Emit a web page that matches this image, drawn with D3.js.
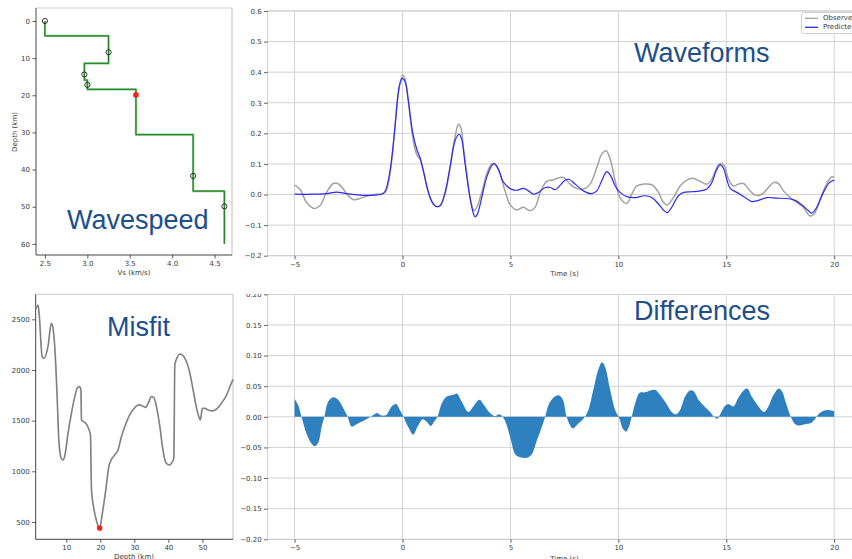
<!DOCTYPE html>
<html><head><meta charset="utf-8">
<script src="https://cdn.jsdelivr.net/npm/d3@7"></script>
<style>
body{margin:0;background:#fff}
svg{display:block}
text{font-family:"DejaVu Sans",sans-serif}
.big{font-family:"Liberation Sans",Arial,sans-serif;fill:#1d4f8b}
</style>
</head><body>
<svg id="fig" width="852" height="559"></svg>
<script>
// ---- Shear-wave velocity model: layer tops/bottoms (km) and Vs (km/s)
const layerTop    = [0, 4.0, 11.4, 15.9, 18.4, 30.6, 45.8];
const layerBottom = [4.0, 11.4, 15.9, 18.4, 30.6, 45.8, 60];
const layerVs     = [2.5, 3.25, 2.965, 3.0, 3.573, 4.247, 4.615];
// sample points along the model (open markers) and the perturbed one (red)
const sampleDepth = [0, 8.4, 14.4, 17.2, 41.7, 49.9];
const sampleVs    = [2.5, 3.25, 2.965, 3.0, 4.247, 4.615];
const chosenPoint = [3.573, 19.9];
const vsTicks = [2.5, 3.0, 3.5, 4.0, 4.5];
const depthTicks = [0, 10, 20, 30, 40, 50, 60];

// ---- Misfit as a function of perturbation depth [depth km, misfit]
const misfitCurve = [
  [1.0,2600],[1.7,2640],[2.0,2560],[2.9,2132],[3.4,2115],[4.6,2230],[5.6,2460],[5.9,2444],
  [6.6,2230],[7.3,1737],[7.8,1310],[8.5,1128],[9.0,1112],[9.5,1145],[10.5,1375],[11.5,1572],
  [12.5,1737],[13.2,1819],[13.9,1836],[14.3,1803],[14.45,1507],[15.1,1490],[15.9,1467],
  [16.7,1408],[17.1,1359],[17.4,816],[18.0,652],[18.8,520],[19.8,440],[20.6,586],[21.6,816],
  [22.5,1046],[23.2,1112],[24.2,1161],[25.2,1211],[26.2,1342],[27.2,1441],[28.6,1556],
  [29.6,1605],[30.6,1645],[31.6,1655],[32.4,1645],[33.3,1632],[34.0,1665],[35.0,1737],
  [35.7,1730],[36.5,1638],[37.5,1441],[38.4,1211],[39.4,1079],[40.4,1063],[41.2,1096],
  [41.6,1128],[41.9,2049],[42.5,2115],[43.3,2158],[44.1,2148],[45.1,2099],[46.1,2000],
  [47.1,1836],[48.0,1671],[48.8,1556],[49.4,1507],[50.0,1622],[50.7,1622],[51.7,1605],
  [52.9,1596],[54.1,1612],[55.6,1671],[57.1,1753],[58.5,1868],[59.0,1908]
];
const misfitBest = [19.8, 440];
const misfitXTicks = [10, 20, 30, 40, 50];
const misfitYTicks = [500, 1000, 1500, 2000, 2500];

// ---- Waveforms [time s, amplitude]
const observed = [
  [-5,0.031],[-4.75,0.017],[-4.44,-0.026],[-4.09,-0.046],[-3.83,-0.037],[-3.52,0.007],
  [-3.21,0.036],[-3.02,0.037],[-2.82,0.025],[-2.51,-0.004],[-2.28,-0.017],[-1.97,-0.013],
  [-1.58,-0.004],[-1.2,0.001],[-0.89,0.003],[-0.73,0.017],[-0.58,0.067],[-0.42,0.165],
  [-0.27,0.284],[-0.12,0.36],[0.01,0.39],[0.12,0.377],[0.27,0.306],[0.43,0.208],[0.58,0.148],
  [0.69,0.126],[0.81,0.116],[0.97,0.077],[1.12,0.028],[1.35,-0.021],[1.58,-0.039],
  [1.74,-0.037],[1.97,0.001],[2.2,0.088],[2.43,0.186],[2.59,0.23],[2.7,0.219],[2.82,0.154],
  [2.98,0.067],[3.16,-0.021],[3.32,-0.053],[3.44,-0.042],[3.67,0.007],[3.9,0.067],[4.13,0.1],
  [4.29,0.1],[4.52,0.067],[4.75,0.012],[4.98,-0.032],[5.29,-0.05],[5.6,-0.042],[5.91,-0.053],
  [6.14,-0.042],[6.38,0.007],[6.68,0.043],[6.99,0.048],[7.3,0.056],[7.53,0.053],[7.76,0.034],
  [8.07,0.02],[8.38,0.018],[8.69,0.034],[9.0,0.088],[9.23,0.132],[9.43,0.143],[9.62,0.116],
  [9.85,0.045],[10.08,-0.01],[10.39,-0.029],[10.62,0.001],[10.85,0.028],[11.16,0.034],
  [11.55,0.032],[11.86,0.007],[12.09,-0.026],[12.27,-0.034],[12.55,-0.01],[12.86,0.028],
  [13.17,0.047],[13.45,0.053],[13.79,0.043],[14.1,0.034],[14.33,0.05],[14.56,0.088],
  [14.71,0.101],[14.9,0.094],[15.1,0.05],[15.33,0.028],[15.56,0.034],[15.8,0.036],
  [16.03,0.018],[16.34,-0.002],[16.65,0.001],[16.95,0.023],[17.19,0.039],[17.42,0.036],
  [17.65,0.012],[17.96,-0.01],[18.27,-0.026],[18.58,-0.042],[18.88,-0.07],[19.07,-0.064],
  [19.35,-0.015],[19.66,0.036],[19.89,0.058],[20.0,0.056]
];
const predicted = [
  [-5,0.001],[-4.13,0.001],[-3.52,0.003],[-3.05,0.008],[-2.59,0.003],[-1.97,-0.002],
  [-1.35,-0.002],[-0.97,0.001],[-0.81,0.01],[-0.58,0.077],[-0.35,0.219],[-0.15,0.355],
  [-0.01,0.38],[0.12,0.369],[0.27,0.306],[0.47,0.203],[0.66,0.148],[0.81,0.121],[1.0,0.067],
  [1.2,0.007],[1.43,-0.032],[1.62,-0.04],[1.77,-0.034],[1.97,0.007],[2.2,0.088],[2.43,0.175],
  [2.62,0.197],[2.74,0.181],[2.9,0.099],[3.1,0.001],[3.25,-0.053],[3.36,-0.073],[3.47,-0.064],
  [3.67,-0.01],[3.9,0.056],[4.13,0.094],[4.24,0.101],[4.44,0.083],[4.64,0.045],[4.83,0.028],
  [5.06,0.017],[5.29,0.014],[5.6,0.02],[5.83,0.012],[6.07,0.001],[6.3,0.007],[6.61,0.023],
  [6.84,0.023],[7.07,0.016],[7.3,0.03],[7.5,0.045],[7.7,0.05],[8.0,0.034],[8.38,0.012],
  [8.77,0.003],[9.0,0.012],[9.23,0.045],[9.46,0.075],[9.65,0.061],[9.85,0.028],[10.08,0.007],
  [10.39,-0.007],[10.78,-0.01],[11.24,-0.004],[11.55,-0.01],[11.86,-0.031],[12.12,-0.053],
  [12.27,-0.059],[12.47,-0.042],[12.78,-0.004],[13.02,0.007],[13.4,0.009],[13.79,0.012],
  [14.1,0.018],[14.33,0.039],[14.53,0.077],[14.71,0.097],[14.87,0.086],[15.02,0.05],
  [15.18,0.02],[15.49,0.007],[15.87,-0.01],[16.18,-0.023],[16.49,-0.019],[16.88,-0.01],
  [17.34,-0.012],[17.8,-0.013],[18.19,-0.019],[18.5,-0.034],[18.81,-0.053],[18.96,-0.061],
  [19.19,-0.042],[19.5,0.007],[19.78,0.039],[20.0,0.047]
];
// ---- Residual (observed - predicted) [time s, amplitude]
const residual = [
  [-5,0.029],[-4.83,0.019],[-4.68,0],[-4.44,-0.028],[-4.21,-0.044],[-4.06,-0.048],[-3.9,-0.042],
  [-3.75,-0.017],[-3.62,0],[-3.44,0.025],[-3.21,0.032],[-2.98,0.028],[-2.74,0.014],[-2.54,0],
  [-2.36,-0.016],[-2.13,-0.012],[-1.82,-0.007],[-1.54,-0.001],[-1.35,0.003],[-1.17,0.006],
  [-0.97,0.002],[-0.76,0.003],[-0.5,0.017],[-0.3,0.021],[-0.12,0.011],[0.04,0],[0.27,-0.017],
  [0.5,-0.029],[0.7,-0.016],[0.94,-0.004],[1.12,-0.008],[1.31,-0.015],[1.46,-0.008],[1.62,0],
  [1.82,0.022],[2.05,0.033],[2.36,0.036],[2.51,0.038],[2.74,0.025],[3.05,0.008],[3.28,0.017],
  [3.56,0.028],[3.78,0.019],[4.03,0.007],[4.29,0.001],[4.47,0.004],[4.64,0],[4.83,-0.014],
  [5.03,-0.039],[5.22,-0.061],[5.45,-0.066],[5.76,-0.067],[5.99,-0.061],[6.22,-0.039],
  [6.45,-0.017],[6.61,0],[6.76,0.019],[6.99,0.031],[7.23,0.035],[7.43,0.028],[7.58,0.003],
  [7.74,-0.012],[7.89,-0.019],[8.15,-0.011],[8.41,-0.002],[8.61,0.011],[8.84,0.044],
  [9.08,0.078],[9.25,0.089],[9.39,0.081],[9.62,0.044],[9.85,0.011],[10.05,-0.003],
  [10.2,-0.019],[10.36,-0.024],[10.51,-0.014],[10.62,0],[10.78,0.022],[10.98,0.039],
  [11.24,0.04],[11.47,0.043],[11.7,0.044],[11.93,0.036],[12.21,0.022],[12.47,0.008],
  [12.68,0.004],[12.86,0.011],[13.09,0.033],[13.32,0.043],[13.48,0.042],[13.71,0.028],
  [13.94,0.019],[14.25,0.008],[14.44,0],[14.59,-0.003],[14.74,0.006],[14.95,0.018],
  [15.1,0.021],[15.33,0.017],[15.56,0.031],[15.8,0.043],[15.98,0.046],[16.18,0.033],
  [16.49,0.017],[16.75,0.008],[16.95,0.017],[17.19,0.036],[17.42,0.046],[17.57,0.042],
  [17.77,0.022],[17.99,0],[18.19,-0.012],[18.39,-0.014],[18.65,-0.012],[18.92,-0.01],
  [19.12,-0.003],[19.27,0.004],[19.5,0.01],[19.73,0.011],[20.0,0.009]
];
const timeTicks = [-5, 0, 5, 10, 15, 20];
const waveTicks = [-0.2, -0.1, 0.0, 0.1, 0.2, 0.3, 0.4, 0.5, 0.6];
const resTicks = [-0.2, -0.15, -0.1, -0.05, 0.0, 0.05, 0.1, 0.15, 0.2];
const legendLabels = ["Observed", "Predicted"];

const svg = d3.select("#fig");
const minus = s => s.replace("-", "\u2212");
const TICK = "#333", TXT = "#3a3a3a", GRID = "#d2d2d2", EDGE = "#cfcfcf";

function styleAxis(g) {
  g.select(".domain").remove();
  g.selectAll(".tick line").attr("stroke", TICK).attr("stroke-width", 0.8);
  g.selectAll(".tick text").attr("fill", TXT).attr("font-size", 7)
    .attr("font-family", "DejaVu Sans, sans-serif");
}
function axes(g, x, y, xt, yt, xf, yf) {
  g.append("g").attr("transform", `translate(0,${y.range()[0]})`)
    .call(d3.axisBottom(x).tickValues(xt).tickSize(3.5).tickPadding(2.5).tickFormat(xf))
    .call(styleAxis);
  g.append("g").attr("transform", `translate(${x.range()[0]},0)`)
    .call(d3.axisLeft(y).tickValues(yt).tickSize(3.5).tickPadding(2.5).tickFormat(yf))
    .call(styleAxis);
}
function grid(g, x, y, xt, yt) {
  g.append("g").selectAll("line").data(xt).join("line")
    .attr("x1", d => x(d)).attr("x2", d => x(d))
    .attr("y1", y.range()[0]).attr("y2", y.range()[1])
    .attr("stroke", GRID).attr("stroke-width", 1);
  g.append("g").selectAll("line").data(yt).join("line")
    .attr("y1", d => y(d)).attr("y2", d => y(d))
    .attr("x1", x.range()[0]).attr("x2", x.range()[1])
    .attr("stroke", GRID).attr("stroke-width", 1);
}
function box(g, x, y, dark) {
  const [x0, x1] = x.range(), [y0, y1] = y.range();
  g.append("line").attr("x1", x0).attr("x2", x1).attr("y1", y1).attr("y2", y1).attr("stroke", EDGE);
  g.append("line").attr("x1", x1).attr("x2", x1).attr("y1", y0).attr("y2", y1).attr("stroke", "#bdbdbd");
  g.append("line").attr("x1", x0).attr("x2", x1).attr("y1", y0).attr("y2", y0)
    .attr("stroke", dark ? "#444" : EDGE);
  g.append("line").attr("x1", x0).attr("x2", x0).attr("y1", y0).attr("y2", y1)
    .attr("stroke", dark ? "#444" : EDGE);
}
function label(g, txt, x, y, rot) {
  g.append("text").attr("x", x).attr("y", y).attr("text-anchor", "middle")
    .attr("dominant-baseline", "middle").attr("font-size", 7).attr("fill", TXT)
    .attr("transform", rot ? `rotate(-90,${x},${y})` : null).text(txt);
}

// ================= Wavespeed model =================
{
  const g = svg.append("g");
  const x = d3.scaleLinear().domain([2.395, 4.705]).range([36, 232]);
  const y = d3.scaleLinear().domain([63, -3.5]).range([255, 8]);
  box(g, x, y, true);
  axes(g, x, y, vsTicks, depthTicks, d3.format(".1f"), d3.format("d"));
  const pts = [];
  layerVs.forEach((v, i) => { pts.push([v, layerTop[i]]); pts.push([v, layerBottom[i]]); });
  g.append("path").datum(pts)
    .attr("d", d3.line().x(d => x(d[0])).y(d => y(d[1])))
    .attr("fill", "none").attr("stroke", "#5cb85c").attr("stroke-width", 2.2).attr("opacity", 0.8);
  g.append("path").datum(pts)
    .attr("d", d3.line().x(d => x(d[0])).y(d => y(d[1])))
    .attr("fill", "none").attr("stroke", "#1f7a1f").attr("stroke-width", 1);
  g.selectAll("circle.s").data(sampleDepth).join("circle")
    .attr("cx", (d, i) => x(sampleVs[i])).attr("cy", d => y(d)).attr("r", 2.6)
    .attr("fill", "none").attr("stroke", "#222").attr("stroke-width", 0.9);
  g.append("circle").attr("cx", x(chosenPoint[0])).attr("cy", y(chosenPoint[1])).attr("r", 2.8)
    .attr("fill", "#f0241a");
  label(g, "Vs (km/s)", 134, 273);
  label(g, "Depth (km)", 15, 132, true);
  g.append("text").attr("class", "big").attr("x", 67).attr("y", 229).attr("font-size", 27)
    .text("Wavespeed");
}

// ================= Waveforms =================
{
  const g = svg.append("g");
  const x = d3.scaleLinear().domain([-6.25, 21.25]).range([267.6, 861.2]);
  const y = d3.scaleLinear().domain([-0.2, 0.6]).range([255.7, 11]);
  grid(g, x, y, timeTicks, waveTicks);
  box(g, x, y, false);
  axes(g, x, y, timeTicks, waveTicks, d => minus(d3.format("d")(d)), d => minus(d3.format(".1f")(d)));
  const line = d3.line().x(d => x(d[0])).y(d => y(d[1])).curve(d3.curveCatmullRom.alpha(0.5));
  g.append("path").datum(observed).attr("d", line).attr("fill", "none")
    .attr("stroke", "#a2a2a2").attr("stroke-width", 1.5);
  g.append("path").datum(predicted).attr("d", line).attr("fill", "none")
    .attr("stroke", "#2b2bef").attr("stroke-width", 1.2);
  label(g, "Time (s)", x(7.5), 274);
  g.append("text").attr("class", "big").attr("x", 634).attr("y", 62).attr("font-size", 27)
    .text("Waveforms");
  // legend
  const lg = g.append("g");
  lg.append("rect").attr("x", 801.5).attr("y", 12.5).attr("width", 70).attr("height", 21)
    .attr("rx", 2).attr("fill", "#fff").attr("stroke", "#d0d0d0");
  const cols = ["#a2a2a2", "#2b2bef"];
  legendLabels.forEach((t, i) => {
    const yy = 18.3 + i * 9;
    lg.append("line").attr("x1", 805).attr("x2", 818).attr("y1", yy).attr("y2", yy)
      .attr("stroke", cols[i]).attr("stroke-width", 1.3);
    lg.append("text").attr("x", 823).attr("y", yy).attr("dominant-baseline", "middle")
      .attr("font-size", 7).attr("fill", TXT).text(t);
  });
}

// ================= Misfit =================
{
  const g = svg.append("g");
  const x = d3.scaleLinear().domain([1, 59]).range([35.7, 233]);
  const y = d3.scaleLinear().domain([329, 2747]).range([539.3, 294.3]);
  box(g, x, y, true);
  axes(g, x, y, misfitXTicks, misfitYTicks, d3.format("d"), d3.format("d"));
  const mline = d3.line().x(d => x(d[0])).y(d => y(d[1])).curve(d3.curveMonotoneX);
  g.append("path").datum(misfitCurve).attr("d", mline)
    .attr("fill", "none").attr("stroke", "#9a9a9a").attr("stroke-width", 1.7);
  g.append("path").datum(misfitCurve).attr("d", mline)
    .attr("fill", "none").attr("stroke", "#666").attr("stroke-width", 0.6);
  g.append("circle").attr("cx", x(misfitBest[0])).attr("cy", y(misfitBest[1])).attr("r", 2.8)
    .attr("fill", "#f0241a");
  label(g, "Depth (km)", 134, 557);
  g.append("text").attr("class", "big").attr("x", 107).attr("y", 336).attr("font-size", 27)
    .text("Misfit");
}

// ================= Differences =================
{
  svg.append("clipPath").attr("id", "lowerPanel").append("rect")
    .attr("x", 0).attr("y", 294).attr("width", 852).attr("height", 270);
  const g = svg.append("g").attr("clip-path", "url(#lowerPanel)");
  const x = d3.scaleLinear().domain([-6.25, 21.25]).range([267.6, 861.2]);
  const y = d3.scaleLinear().domain([-0.2, 0.2]).range([539.3, 294.3]);
  grid(g, x, y, timeTicks, resTicks);
  box(g, x, y, false);
  axes(g, x, y, timeTicks, resTicks, d => minus(d3.format("d")(d)), d => minus(d3.format(".2f")(d)));
  g.append("path").datum(residual)
    .attr("d", d3.area().x(d => x(d[0])).y0(y(0)).y1(d => y(d[1])).curve(d3.curveCatmullRom.alpha(0.5)))
    .attr("fill", "#2f80bf");
  label(g, "Time (s)", x(7.5), 559);
  g.append("text").attr("class", "big").attr("x", 634).attr("y", 320).attr("font-size", 27)
    .text("Differences");
}
</script>
</body></html>
